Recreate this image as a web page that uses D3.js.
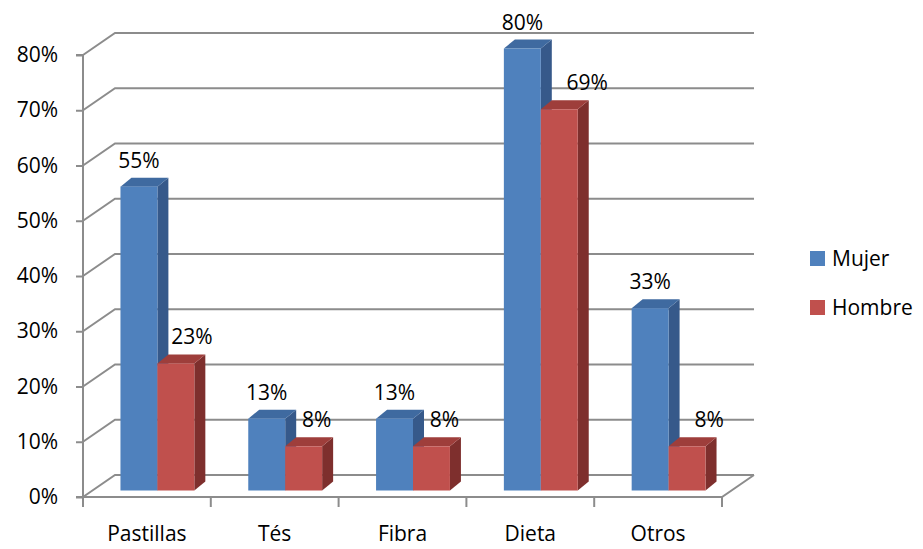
<!DOCTYPE html>
<html>
<head>
<meta charset="utf-8">
<script src="https://cdn.jsdelivr.net/npm/d3@7"></script>
<style>
  html, body { margin: 0; padding: 0; background: #fff; }
  svg { display: block; font-family: "Open Sans", "Liberation Sans", sans-serif; }
</style>
</head>
<body>
<svg id="chart" width="923" height="549"></svg>
<script>
// Data
const categories = ["Pastillas", "Tés", "Fibra", "Dieta", "Otros"];
const seriesNames = ["Mujer", "Hombre"];
const mujer = [0.55, 0.13, 0.13, 0.80, 0.33];
const hombre = [0.23, 0.08, 0.08, 0.69, 0.08];
const yTicks = [0, 0.1, 0.2, 0.3, 0.4, 0.5, 0.6, 0.7, 0.8];

// Layout
const plotLeft = 83, plotRight = 722, plotBottom = 497, plotTop = 55;
const depth = { dx: 32, dy: -22 };      // floor / wall depth
const barDepth = { dx: 11, dy: -9 };    // depth of each bar
const barOff = { dx: (depth.dx - barDepth.dx) / 2, dy: (depth.dy - barDepth.dy) / 2 };
// horizontal nudges for the second series' value labels
const hombreLabelNudge = [16, 13, 13, 28, 22];
const fontSize = 21;

const colors = {
  Mujer:  { front: "#4F81BD", top: "#3F6AA0", side: "#36598A" },
  Hombre: { front: "#C0504D", top: "#9E3E3B", side: "#7E2F2D" }
};
const gridColor = "#8C8C8C";

const svg = d3.select("#chart");

const x = d3.scaleBand().domain(categories).range([plotLeft, plotRight]);
const y = d3.scaleLinear().domain([0, 0.8]).range([plotBottom, plotTop]);

const inner = d3.scaleBand().domain(seriesNames)
  .range([0, x.bandwidth()]).paddingOuter(0.73).paddingInner(0);

const fmt = d3.format(".0%");

// Back wall gridlines with the diagonal on the side wall
const grid = svg.append("g").attr("fill", "none").attr("stroke", gridColor).attr("stroke-width", 2);
yTicks.forEach(t => {
  const yy = y(t);
  grid.append("path").attr("d",
    `M${plotLeft},${yy} L${plotLeft + depth.dx},${yy + depth.dy} L${plotRight + depth.dx},${yy + depth.dy}`);
});
// Floor outline
grid.append("path").attr("d",
  `M${plotLeft},${plotBottom} L${plotRight},${plotBottom} L${plotRight + depth.dx},${plotBottom + depth.dy}`);

// Value axis
const yAxis = d3.axisLeft(y).tickValues(yTicks).tickFormat(fmt).tickSize(7).tickPadding(18);
const gy = svg.append("g").attr("transform", `translate(${plotLeft},0)`).call(yAxis);
gy.select(".domain").attr("stroke", gridColor).attr("stroke-width", 2)
  .attr("d", `M-7,${plotTop}H0V${plotBottom}H-7`);
gy.selectAll(".tick line").attr("stroke", gridColor).attr("stroke-width", 2);
gy.selectAll(".tick text").attr("fill", "#000").attr("font-size", fontSize)
  .attr("font-family", "'Open Sans', sans-serif");

// Category axis
const xAxis = d3.axisBottom(x).tickSize(10).tickSizeOuter(10).tickPadding(15);
const gx = svg.append("g").attr("transform", `translate(0,${plotBottom})`).call(xAxis);
gx.select(".domain").remove();
gx.selectAll(".tick line").remove();
const bounds = categories.map(c => x(c)).concat([plotRight]);
gx.selectAll(".bound").data(bounds).join("line")
  .attr("x1", d => d).attr("x2", d => d).attr("y1", 0).attr("y2", 10)
  .attr("stroke", gridColor).attr("stroke-width", 2);
gx.selectAll(".tick text").attr("fill", "#000").attr("font-size", fontSize)
  .attr("font-family", "'Open Sans', sans-serif").attr("dy", "0.9em");

// Bars
const bars = [];
categories.forEach((c, i) => {
  bars.push({ cat: c, s: "Mujer", v: mujer[i], i });
  bars.push({ cat: c, s: "Hombre", v: hombre[i], i });
});

const gb = svg.append("g");
bars.forEach(b => {
  const x0 = x(b.cat) + inner(b.s) + barOff.dx;
  const x1 = x0 + inner.bandwidth();
  const y0 = y(0) + barOff.dy;
  const y1 = y(b.v) + barOff.dy;
  const c = colors[b.s];
  const g = gb.append("g");
  // side face
  g.append("path").attr("fill", c.side).attr("d",
    `M${x1},${y0} L${x1 + barDepth.dx},${y0 + barDepth.dy} L${x1 + barDepth.dx},${y1 + barDepth.dy} L${x1},${y1} Z`);
  // top face
  g.append("path").attr("fill", c.top).attr("d",
    `M${x0},${y1} L${x0 + barDepth.dx},${y1 + barDepth.dy} L${x1 + barDepth.dx},${y1 + barDepth.dy} L${x1},${y1} Z`);
  // front face
  g.append("rect").attr("fill", c.front)
    .attr("x", x0).attr("y", y1).attr("width", x1 - x0).attr("height", y0 - y1);
  b.cx = (x0 + x1) / 2;
  b.ty = y1;
});

// Value labels
svg.append("g").selectAll("text").data(bars).join("text")
  .attr("x", d => d.cx + (d.s === "Hombre" ? hombreLabelNudge[d.i] : 0))
  .attr("y", d => d.ty - 19)
  .attr("text-anchor", "middle")
  .attr("font-size", fontSize)
  .attr("fill", "#000")
  .text(d => fmt(d.v));

// Legend
const lg = svg.append("g").attr("transform", "translate(810,251)");
seriesNames.forEach((s, i) => {
  const row = lg.append("g").attr("transform", `translate(0,${i * 49})`);
  row.append("rect").attr("width", 15).attr("height", 15).attr("fill", colors[s].front);
  row.append("text").attr("x", 22).attr("y", 7.5).attr("dy", "0.36em")
    .attr("font-size", fontSize).attr("fill", "#000").text(s);
});
</script>
</body>
</html>
